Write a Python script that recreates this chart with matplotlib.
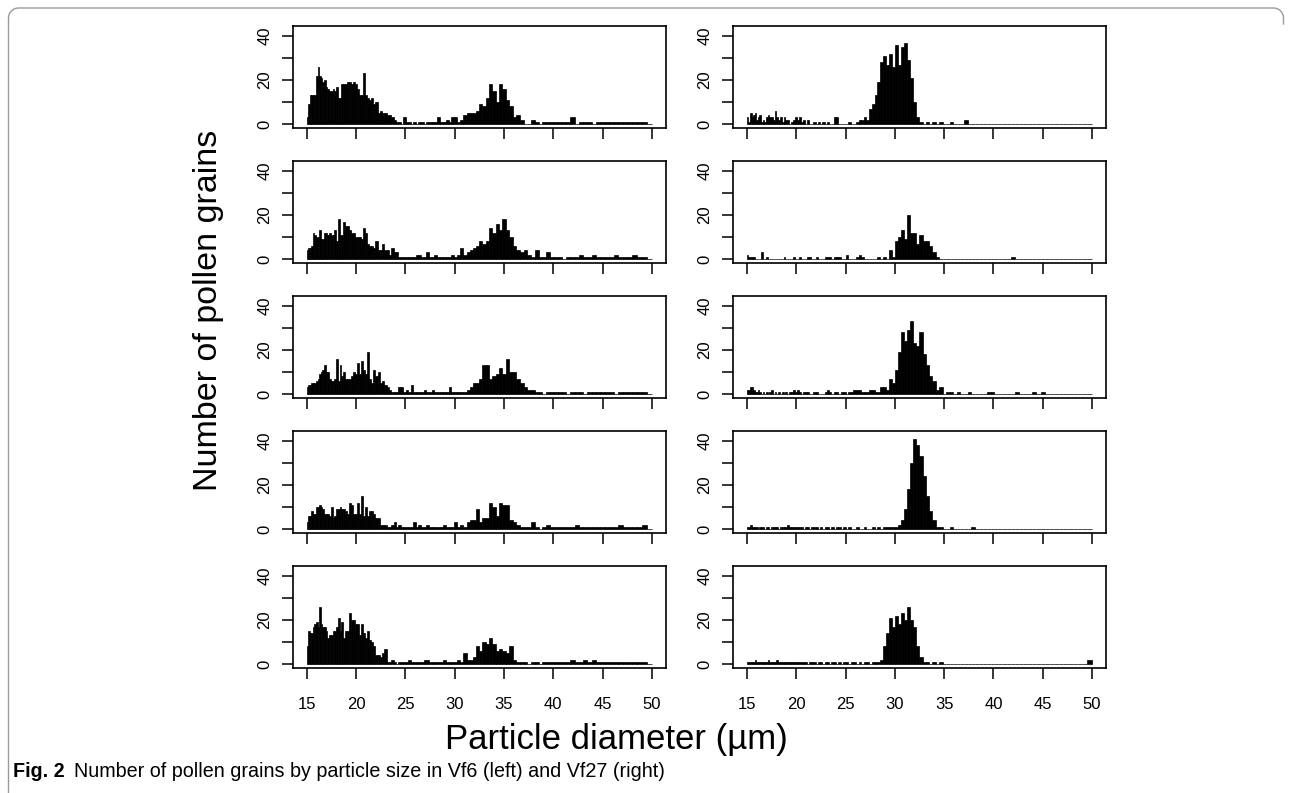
import numpy as np
import matplotlib
matplotlib.use("Agg")
import matplotlib.pyplot as plt

plt.rcParams['font.family'] = ['Liberation Sans', 'DejaVu Sans']

# ---- data: counts per log-spaced size bin (15-50 um, 120 bins) ----
bin_lo, bin_hi, n_bins = 15, 50, 120
x_ticks = [15, 20, 25, 30, 35, 40, 45, 50]
y_ticks = [0, 10, 20, 30, 40]
y_tick_labels = ['0', '', '20', '', '40']

vf6_1 = [3, 9, 13, 13, 13, 13, 22, 26, 22, 21, 19, 20, 17, 16, 15, 15, 16, 15, 17, 12, 12, 18, 18, 18, 19, 19, 18, 19, 18,
         16, 13, 13, 23, 13, 12, 11, 12, 9, 10, 5, 6, 5, 5, 4, 4, 3, 2, 1, 1, 0, 3,
         1, 1, 0, 1, 0, 1, 1, 0, 1, 1, 1, 1, 3, 1, 1, 2, 1, 3,
         3, 1, 2, 4, 5, 5, 5, 6, 9, 8, 12, 18, 15, 10, 18, 16,
         11, 8, 3, 4, 2, 0, 0, 2, 1, 0, 1, 1, 1,
         1, 1, 1, 1, 3, 0, 1, 1, 1, 0, 1, 1,
         1, 1, 1, 1, 1, 1, 1, 1, 1, 0]
vf6_2 = [4, 5, 5, 6, 12, 11, 10, 10, 13, 9, 9, 12, 12, 11, 12, 11, 11, 13, 8, 18, 11, 11, 17, 15, 15, 13, 12, 12, 10,
         10, 10, 9, 14, 12, 7, 6, 6, 5, 8, 4, 4, 7, 4, 4, 2, 5, 3, 3, 1, 1, 1,
         1, 1, 1, 1, 2, 2, 1, 1, 3, 1, 1, 2, 1, 1, 1, 1, 1, 2,
         1, 2, 5, 2, 3, 4, 5, 6, 8, 7, 8, 14, 12, 16, 13, 18,
         13, 10, 6, 4, 3, 4, 2, 1, 4, 1, 1, 3, 1,
         1, 1, 0, 1, 1, 1, 2, 1, 1, 2, 1, 1,
         1, 1, 2, 1, 1, 1, 2, 1, 1, 0]
vf6_3 = [3, 4, 4, 5, 5, 5, 6, 7, 9, 10, 11, 13, 10, 10, 7, 6, 6, 7, 16, 6, 13, 8, 10, 7, 7, 7, 8, 10, 9,
         14, 9, 15, 11, 9, 19, 7, 5, 11, 8, 10, 5, 6, 4, 3, 2, 1, 1, 1, 3, 3, 1,
         2, 1, 4, 1, 1, 1, 1, 2, 1, 1, 2, 1, 1, 1, 1, 1, 3, 1,
         1, 1, 1, 1, 2, 3, 5, 5, 7, 13, 13, 7, 8, 9, 12, 9,
         16, 10, 10, 7, 5, 3, 2, 2, 1, 1, 0, 1, 1,
         1, 1, 1, 0, 1, 1, 1, 0, 1, 1, 1, 1,
         1, 1, 0, 1, 1, 1, 1, 1, 1, 0]
vf6_4 = [3, 6, 6, 8, 7, 7, 10, 10, 11, 10, 9, 7, 7, 7, 6, 10, 5, 6, 9, 9, 10, 9, 9, 8, 7, 12, 11, 7, 7,
         12, 7, 15, 6, 10, 6, 8, 8, 7, 5, 5, 2, 2, 2, 1, 1, 2, 3, 1, 2, 1, 1,
         1, 1, 1, 3, 1, 2, 1, 1, 2, 1, 1, 1, 1, 1, 2, 1, 1, 1,
         3, 1, 2, 1, 3, 4, 4, 9, 3, 5, 5, 12, 10, 6, 12, 11,
         11, 4, 3, 2, 1, 1, 1, 3, 1, 0, 1, 2, 1,
         1, 1, 1, 1, 1, 2, 1, 1, 1, 1, 1, 1,
         1, 1, 1, 2, 1, 1, 1, 1, 2, 0]
vf6_5 = [8, 15, 14, 14, 17, 18, 19, 17, 26, 18, 17, 17, 15, 12, 13, 13, 15, 15, 17, 21, 15, 19, 12, 15, 15, 23, 20, 20, 18,
         18, 13, 18, 14, 12, 15, 11, 10, 8, 4, 4, 3, 5, 7, 1, 1, 2, 1, 0, 1, 1, 1,
         1, 2, 1, 1, 1, 1, 1, 2, 2, 1, 1, 1, 1, 1, 2, 1, 1, 1,
         1, 2, 1, 5, 2, 2, 3, 8, 6, 10, 9, 12, 9, 6, 7, 6,
         5, 8, 2, 1, 1, 1, 0, 1, 1, 0, 1, 1, 1,
         1, 1, 1, 1, 2, 1, 1, 2, 1, 2, 1, 1,
         1, 1, 1, 1, 1, 1, 1, 1, 1, 0]

vf27_1 = [3, 1, 5, 3, 4, 5, 2, 3, 4, 1, 2, 1, 3, 4, 3, 3, 2, 6, 3, 2, 3, 1, 3, 2, 2, 0, 1, 2, 3,
          2, 3, 1, 2, 0, 2, 0, 0, 1, 0, 1, 0, 1, 0, 1, 0, 0, 3, 3, 0, 0, 0,
          0, 1, 0, 0, 1, 2, 2, 3, 2, 7, 9, 13, 19, 28, 31, 27, 32, 26,
          36, 27, 35, 37, 29, 21, 10, 3, 1, 0, 1, 0, 1, 0, 1, 0,
          0, 1, 0, 0, 0, 2, 0, 0, 0, 0, 0, 0, 0,
          0, 0, 0, 0, 0, 0, 0, 0, 0, 0, 0, 0,
          0, 0, 0, 0, 0, 0, 0, 0, 0, 0]
vf27_2 = [2, 1, 1, 1, 1, 0, 0, 0, 0, 3, 0, 0, 1, 0, 0, 0, 0, 0, 0, 0, 0, 0, 1, 0, 0, 0, 0, 1, 0,
          0, 1, 0, 0, 0, 1, 1, 0, 0, 1, 0, 0, 0, 1, 1, 1, 0, 1, 1, 1, 0, 0,
          2, 0, 0, 0, 1, 2, 1, 0, 0, 0, 0, 0, 1, 0, 1, 0, 4, 1,
          8, 10, 13, 9, 20, 12, 12, 7, 11, 8, 8, 6, 3, 1, 0, 0,
          0, 0, 0, 0, 0, 0, 0, 0, 0, 0, 0, 0, 0,
          0, 0, 0, 0, 1, 0, 0, 0, 0, 0, 0, 0,
          0, 0, 0, 0, 0, 0, 0, 0, 0, 0]
vf27_3 = [2, 2, 3, 3, 2, 1, 1, 2, 1, 0, 1, 0, 1, 0, 1, 2, 0, 1, 0, 1, 0, 1, 0, 1, 0, 1, 1, 2, 1,
          2, 1, 0, 1, 1, 1, 0, 0, 1, 1, 0, 0, 0, 1, 2, 1, 0, 1, 1, 0, 1, 1,
          0, 1, 1, 2, 2, 2, 1, 1, 1, 2, 2, 1, 1, 3, 3, 2, 7, 5,
          11, 19, 28, 24, 29, 33, 23, 22, 28, 18, 13, 8, 6, 2, 3, 0,
          1, 1, 0, 1, 0, 0, 1, 0, 0, 0, 0, 1, 1,
          0, 0, 0, 0, 0, 1, 0, 0, 0, 1, 0, 1,
          0, 0, 0, 0, 0, 0, 0, 0, 0, 0]
vf27_4 = [1, 1, 2, 1, 1, 1, 1, 0, 1, 1, 1, 0, 1, 1, 0, 1, 1, 1, 1, 0, 1, 1, 1, 1, 2, 1, 1, 1, 1,
          1, 1, 1, 0, 1, 1, 0, 1, 1, 1, 0, 1, 0, 1, 1, 0, 1, 0, 1, 1, 0, 1,
          0, 1, 0, 0, 1, 0, 0, 1, 0, 0, 1, 0, 1, 0, 1, 1, 1, 1,
          1, 2, 4, 9, 18, 30, 41, 38, 33, 24, 15, 8, 4, 1, 1, 0,
          0, 1, 0, 0, 0, 0, 0, 1, 0, 0, 0, 0, 0,
          0, 0, 0, 0, 0, 0, 0, 0, 0, 0, 0, 0,
          0, 0, 0, 0, 0, 0, 0, 0, 0, 0]
vf27_5 = [1, 1, 1, 1, 1, 2, 1, 1, 1, 1, 1, 1, 1, 2, 1, 1, 1, 1, 2, 1, 1, 1, 1, 1, 1, 1, 1, 1, 1,
          1, 1, 1, 1, 1, 0, 1, 1, 1, 0, 1, 1, 0, 1, 1, 0, 1, 1, 0, 1, 0, 1,
          1, 0, 1, 1, 0, 1, 0, 1, 1, 0, 1, 1, 1, 2, 8, 14, 21, 17,
          22, 18, 23, 20, 26, 20, 17, 8, 3, 1, 1, 0, 1, 0, 1, 0,
          0, 0, 0, 0, 0, 0, 0, 0, 0, 0, 0, 0, 0,
          0, 0, 0, 0, 0, 0, 0, 0, 0, 0, 0, 0,
          0, 0, 0, 0, 0, 0, 0, 0, 0, 2]

left_series = [vf6_1, vf6_2, vf6_3, vf6_4, vf6_5]
right_series = [vf27_1, vf27_2, vf27_3, vf27_4, vf27_5]

x_label = "Particle diameter (\u00b5m)"
y_label = "Number of pollen grains"
caption_bold = "Fig. 2"
caption_text = "Number of pollen grains by particle size in Vf6 (left) and Vf27 (right)"

# ---- layout (pixels) ----
W, H = 1293, 793
fig = plt.figure(figsize=(W / 100, H / 100), dpi=100)
fig.patch.set_facecolor('white')

edges = np.geomspace(bin_lo, bin_hi, n_bins + 1)
widths = np.diff(edges)

col_x = [(293.0, 665.6), (733.2, 1105.9)]
row_top0, row_h, row_step = 25.6, 102.2, 135.0

for r in range(5):
    top = row_top0 + row_step * r
    for c, series in enumerate([left_series, right_series]):
        x0, x1 = col_x[c]
        ax = fig.add_axes([x0 / W, 1 - (top + row_h) / H, (x1 - x0) / W, row_h / H])
        ax.bar(edges[:-1], series[r], width=widths, align='edge',
               color='black', edgecolor='black', linewidth=0.5)
        ax.set_xlim(13.6, 51.4)
        ax.set_ylim(-1.72, 44.72)
        for s in ax.spines.values():
            s.set_linewidth(1.2)
        ax.set_xticks(x_ticks)
        ax.set_yticks(y_ticks)
        ax.set_yticklabels(y_tick_labels)
        ax.tick_params(axis='both', direction='out', length=8, width=1.1,
                       labelsize=12, colors='black')
        ax.tick_params(axis='y', pad=7)
        ax.tick_params(axis='x', pad=13)
        for lab in ax.get_yticklabels():
            lab.set_rotation(90)
            lab.set_va('center')
            lab.set_ha('right')
        if r < 4:
            ax.set_xticklabels([])

fig.text(208 / W, 1 - 310 / H, y_label, rotation=90, ha='center', va='center', fontsize=24.5)
fig.text(616 / W, 1 - 740 / H, x_label, ha='center', va='center', fontsize=25)

# caption
t1 = fig.text(13 / W, 1 - 777 / H, caption_bold, fontsize=14.2, fontweight='bold', va='baseline')
fig.canvas.draw()
bb = t1.get_window_extent()
fig.text((bb.x1 + 9) / W, 1 - 777 / H, caption_text, fontsize=14.2, va='baseline')

# page frame (rounded box edge)
ov = fig.add_axes([0, 0, 1, 1], zorder=-5)
ov.set_xlim(0, W)
ov.set_ylim(H, 0)
ov.axis('off')
rad = 10
th = np.linspace(np.pi, 1.5 * np.pi, 12)
fx = [8.5] + list(8.5 + rad + rad * np.cos(th))
fy = [H] + list(8 + rad + rad * np.sin(th))
th2 = np.linspace(1.5 * np.pi, 2 * np.pi, 12)
fx += list(W - 9.5 - rad + rad * np.cos(th2)) + [W - 9.5]
fy += list(8 + rad + rad * np.sin(th2)) + [24]
ov.plot(fx, fy, color='#9a9a9a', lw=1.0)

fig.savefig("out.png", dpi=100)
